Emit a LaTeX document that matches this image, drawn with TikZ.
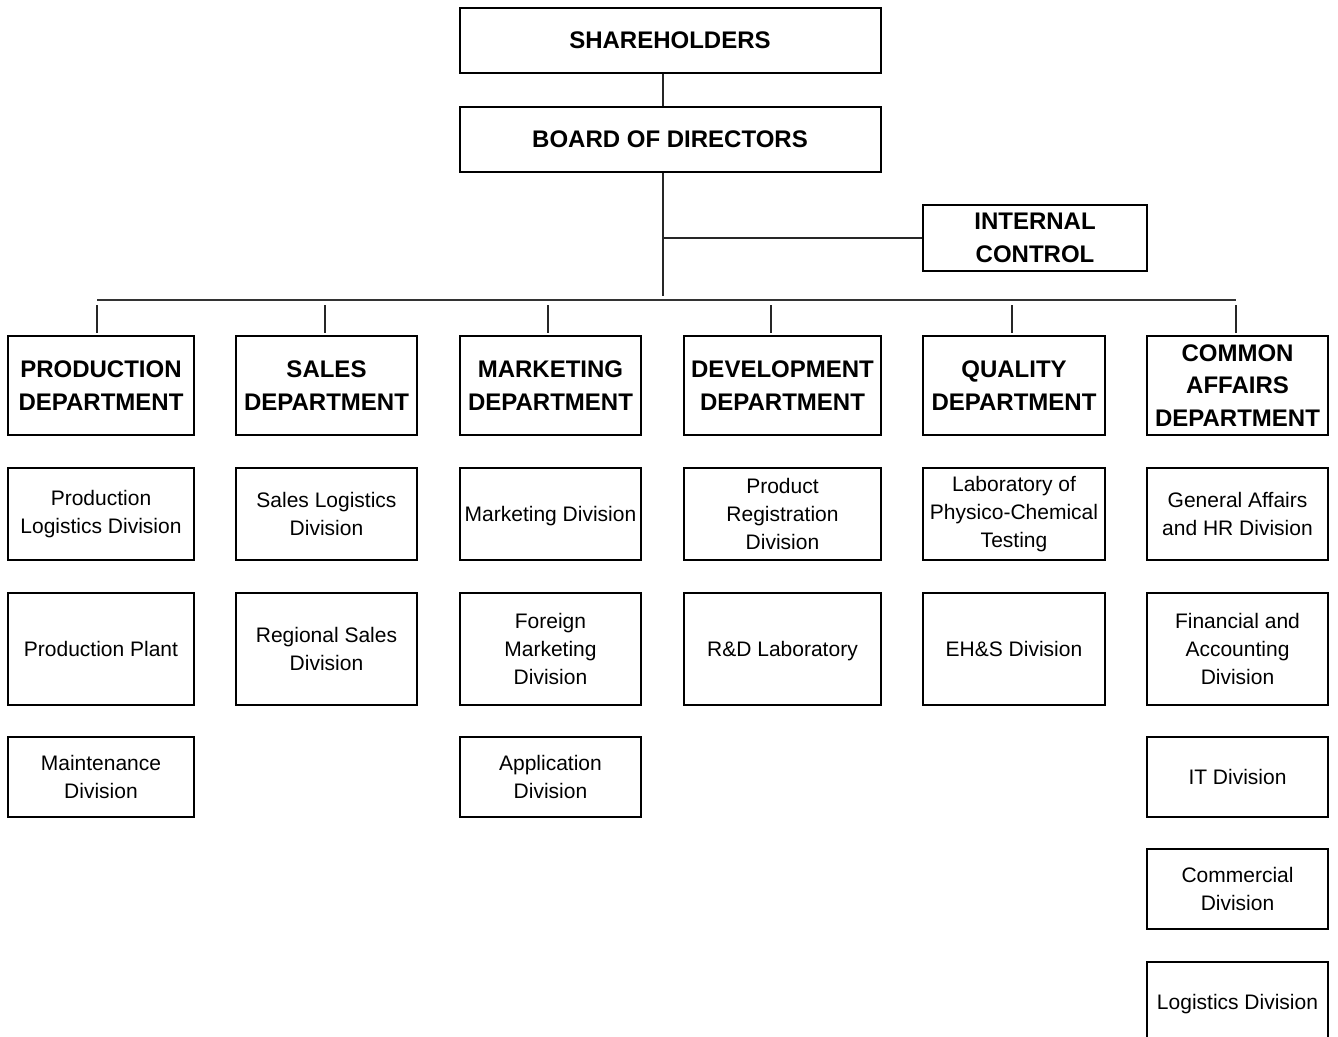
\documentclass[tikz,border=0pt]{standalone}
\usepackage{fontspec}
\setmainfont{Liberation Sans}
\begin{document}
\begin{tikzpicture}[x=1pt,y=-1pt,
  base/.style={draw=black, line width=2pt, align=center, inner sep=2pt, text=black},
  headbox/.style={base, font=\bfseries\fontsize{24}{32.5}\selectfont},
  divbox/.style={base, font=\fontsize{21}{28}\selectfont},
  conn/.style={line width=1.4pt, draw=black!85},
  bus/.style={line width=2pt, draw=black!80}]
\clip (0,0) rectangle (1338,1036);

% top
\node[headbox, minimum width=421pt, minimum height=65pt] (sh) at (670,40) {SHAREHOLDERS};
\node[headbox, minimum width=421pt, minimum height=65pt] (bd) at (670,139) {BOARD OF DIRECTORS};
\node[headbox, minimum width=224pt, minimum height=66pt] (ic) at (1035,238) {INTERNAL\\CONTROL};

% departments
\node[headbox, minimum width=186pt, minimum height=99pt] (pd) at (101,385.5) {PRODUCTION\\DEPARTMENT};
\node[headbox, minimum width=181pt, minimum height=99pt] (sd) at (326.5,385.5) {SALES\\DEPARTMENT};
\node[headbox, minimum width=181pt, minimum height=99pt] (md) at (550.5,385.5) {MARKETING\\DEPARTMENT};
\node[headbox, minimum width=197pt, minimum height=99pt] (dd) at (782.5,385.5) {DEVELOPMENT\\DEPARTMENT};
\node[headbox, minimum width=182pt, minimum height=99pt] (qd) at (1014,385.5) {QUALITY\\DEPARTMENT};
\node[headbox, minimum width=181pt, minimum height=99pt] (cd) at (1237.5,385.5) {COMMON\\AFFAIRS\\DEPARTMENT};

% row 1
\node[divbox, minimum width=186pt, minimum height=92.5pt] (p1) at (101,513.75) {Production\\Logistics Division};
\node[divbox, minimum width=181pt, minimum height=92.5pt] (s1) at (326.5,513.75) {Sales Logistics\\Division};
\node[divbox, minimum width=181pt, minimum height=92.5pt, text depth=0pt] (m1) at (550.5,513.75) {Marketing Division};
\node[divbox, minimum width=197pt, minimum height=92.5pt] (d1) at (782.5,513.75) {Product\\Registration\\Division};
\node[divbox, minimum width=182pt, minimum height=92.5pt] (q1) at (1014,513.75) {Laboratory of\\Physico-Chemical\\Testing};
\node[divbox, minimum width=181pt, minimum height=92.5pt] (c1) at (1237.5,513.75) {General Affairs\\and HR Division};

% row 2
\node[divbox, minimum width=186pt, minimum height=112pt] (p2) at (101,649) {Production Plant};
\node[divbox, minimum width=181pt, minimum height=112pt] (s2) at (326.5,649) {Regional Sales\\Division};
\node[divbox, minimum width=181pt, minimum height=112pt] (m2) at (550.5,649) {Foreign\\Marketing\\Division};
\node[divbox, minimum width=197pt, minimum height=112pt, text depth=0pt] (d2) at (782.5,649) {R\&D Laboratory};
\node[divbox, minimum width=182pt, minimum height=112pt] (q2) at (1014,649) {EH\&S Division};
\node[divbox, minimum width=181pt, minimum height=112pt] (c2) at (1237.5,649) {Financial and\\Accounting\\Division};

% row 3
\node[divbox, minimum width=186pt, minimum height=79.5pt] (p3) at (101,777) {Maintenance\\Division};
\node[divbox, minimum width=181pt, minimum height=79.5pt] (m3) at (550.5,777) {Application\\Division};
\node[divbox, minimum width=181pt, minimum height=79.5pt] (c3) at (1237.5,777) {IT Division};

% rows 4-5 (the last box runs past the bottom edge)
\node[divbox, minimum width=181pt, minimum height=80.5pt] (c4) at (1237.5,889) {Commercial\\Division};
\node[divbox, minimum width=181pt, minimum height=80pt, text depth=0pt] (c5) at (1237.5,1002) {Logistics Division};

% connectors
\coordinate (trunk) at (663,296);
\draw[conn] (sh.south -| trunk) -- (bd.north -| trunk);
\draw[conn] (bd.south -| trunk) -- (trunk);
\draw[conn] (ic.west) -- (ic.west -| trunk);

\coordinate (busL) at (97,300);
\coordinate (busR) at (1236,300);
\draw[bus] (busL) -- (busR);

\coordinate (t1) at (97,305);
\coordinate (t2) at (325,305);
\coordinate (t3) at (548,305);
\coordinate (t4) at (771,305);
\coordinate (t5) at (1012,305);
\coordinate (t6) at (1236,305);
\draw[conn, shorten >=2.5pt] (t1) -- (t1 |- pd.north);
\draw[conn, shorten >=2.5pt] (t2) -- (t2 |- sd.north);
\draw[conn, shorten >=2.5pt] (t3) -- (t3 |- md.north);
\draw[conn, shorten >=2.5pt] (t4) -- (t4 |- dd.north);
\draw[conn, shorten >=2.5pt] (t5) -- (t5 |- qd.north);
\draw[conn, shorten >=2.5pt] (t6) -- (t6 |- cd.north);
\end{tikzpicture}
\end{document}
